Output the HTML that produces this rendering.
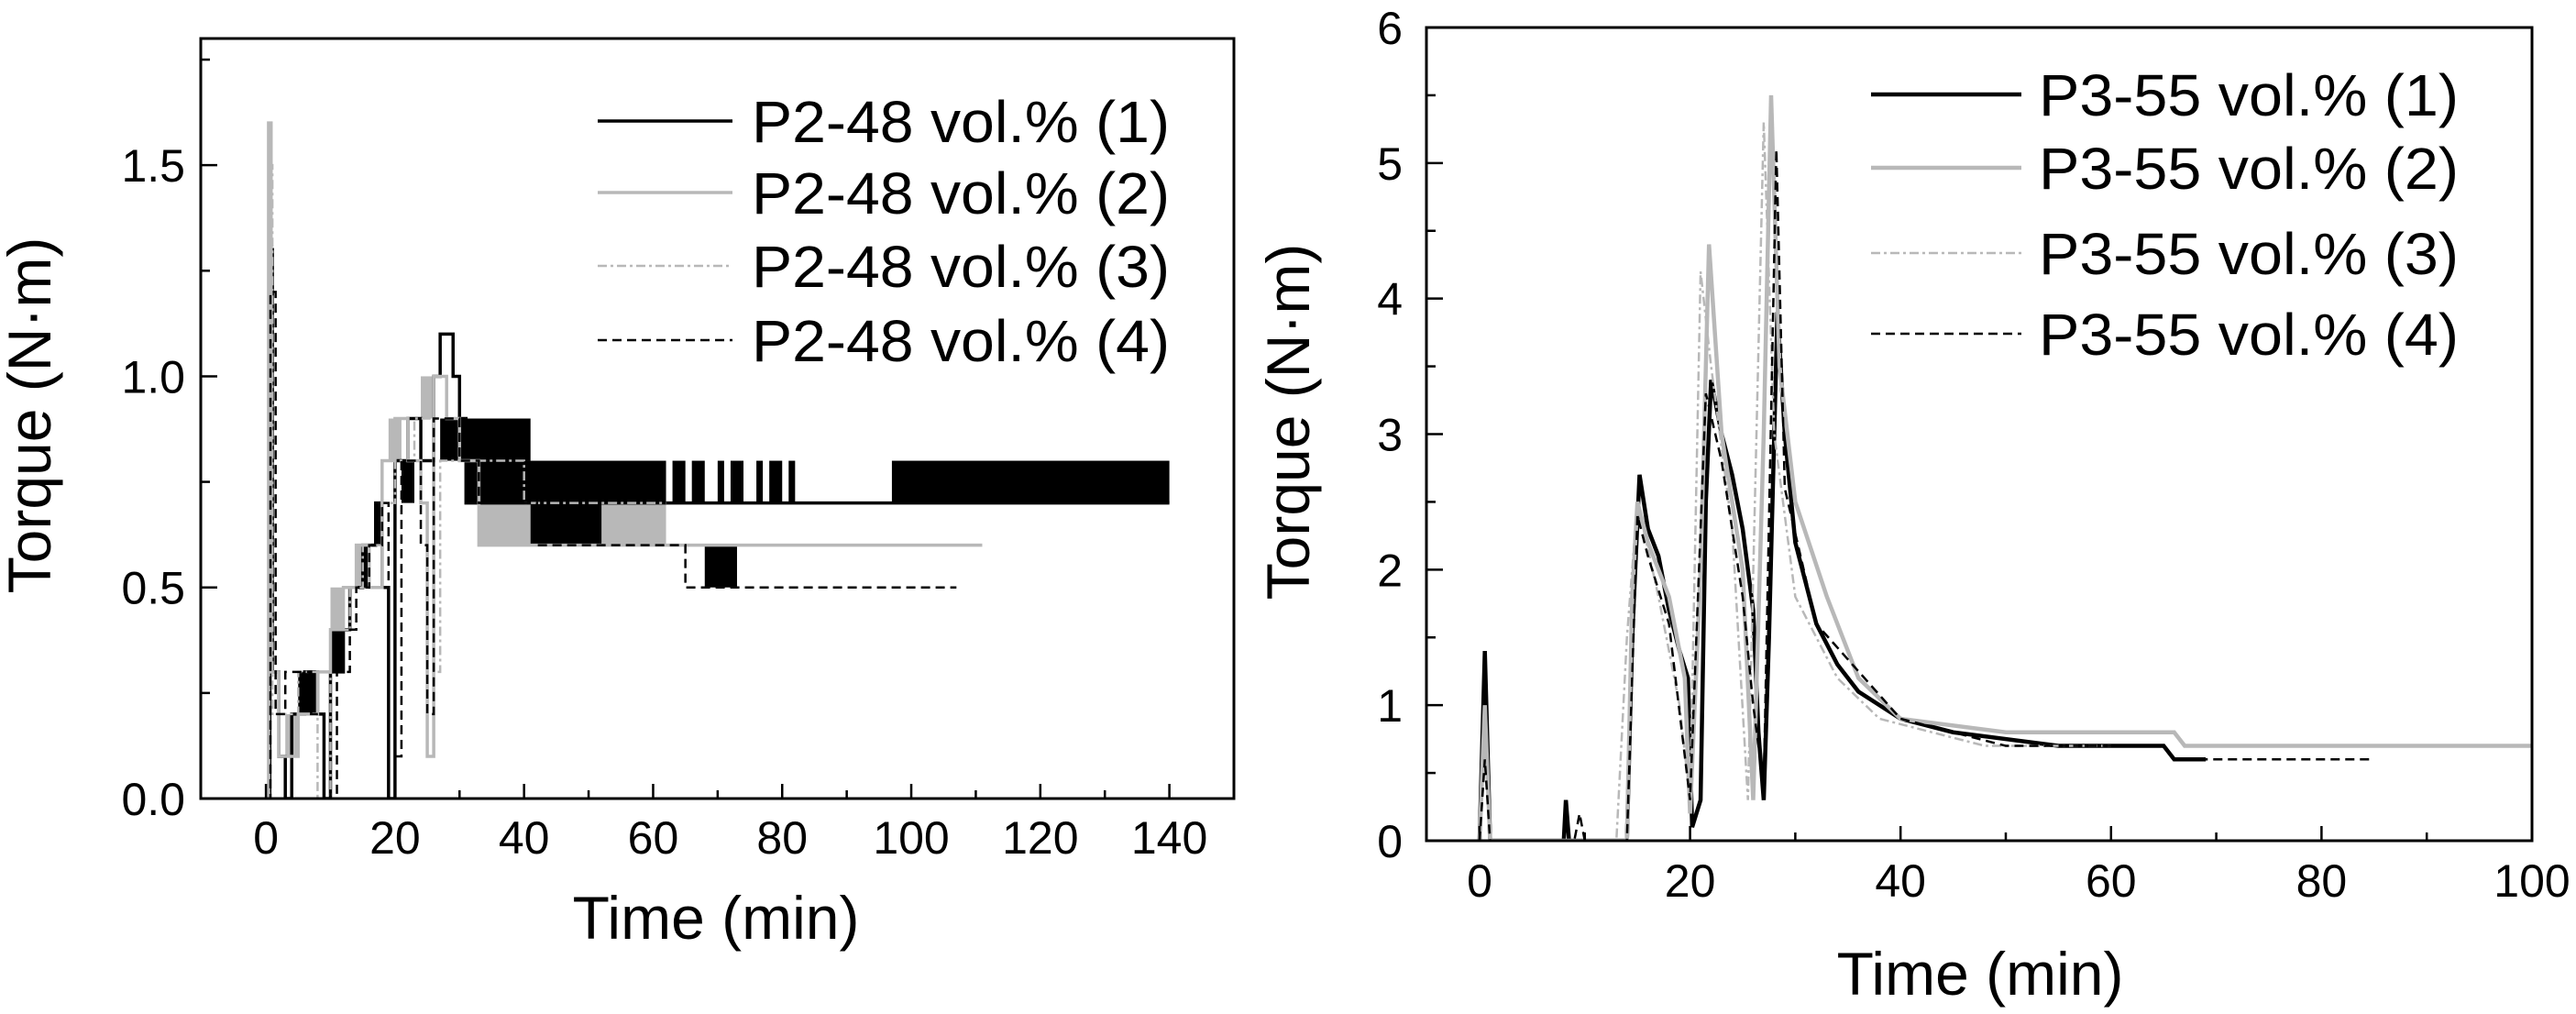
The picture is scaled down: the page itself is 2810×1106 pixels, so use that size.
<!DOCTYPE html>
<html><head><meta charset="utf-8">
<style>
html,body{margin:0;padding:0;background:#fff;}
svg{display:block;font-family:"Liberation Sans",sans-serif;}
</style></head>
<body>
<svg id="fig" width="2810" height="1106" viewBox="0 0 2810 1106" xmlns="http://www.w3.org/2000/svg">
<rect x="0" y="0" width="2810" height="1106" fill="#fff"/>
<g id="left"></g>
<g id="right"></g>
</svg>
<script>
// ---------- LEFT CHART DATA (P2-48 vol.%) ----------
const leftXTicks = [0,20,40,60,80,100,120,140];
const leftYTicks = [0.0,0.5,1.0,1.5];
const leftYTickLabels = ["0.0","0.5","1.0","1.5"];
const leftLegend = ["P2-48 vol.% (1)","P2-48 vol.% (2)","P2-48 vol.% (3)","P2-48 vol.% (4)"];
const leftS1 = [[0,0],[0.6,1.3],[1,0.3],[2,0.1],[3,0],[4,0.2],[6,0.3],[8,0.2],[9,0],[10,0.3],[12,0.4],[13,0.5],[15,0.6],[17,0.7],[18,0.5],[19,0],[20,0.8],[22,0.9],[24,0.8],[26,1.0],[27,1.1],[29,1.0],[30,0.9],[31,0.7],[140,0.7]];
const leftS2 = [[0,0],[0.4,1.6],[0.8,0.3],[2,0.1],[5,0.2],[8,0.3],[10,0.4],[12,0.5],[14,0.6],[16,0.5],[18,0.8],[20,0.9],[22,0.8],[24,0.7],[25,0.1],[26,1.0],[28,0.9],[30,0.8],[33,0.6],[111,0.6]];
const leftS3 = [[0,0],[0.5,1.5],[1,0.2],[5,0.3],[8,0],[10,0.4],[13,0.5],[15,0.6],[18,0.7],[20,0.8],[23,0.9],[26,0.3],[27,0.8],[30,0.8],[40,0.7],[62,0.7]];
const leftS4 = [[0,0],[0.7,1.2],[1.5,0.2],[3,0.3],[7,0.2],[9,0],[11,0.3],[13,0.4],[14,0.5],[16,0.6],[18,0.7],[19,0.1],[21,0.8],[24,0.6],[25,0.2],[26,0.9],[30,0.8],[33,0.7],[42,0.6],[63,0.6],[65,0.5],[107,0.5]];
// dense oscillation regions [t0,t1,low,high]
const leftBandsBlack = [[5,8,0.2,0.3],[10,12,0.3,0.4],[15,16,0.5,0.6],[17,18,0.6,0.7],[21,23,0.7,0.8],[27,31,0.8,0.9],[31,41,0.8,0.9],[31,62,0.7,0.8],[63,65,0.7,0.8],[66,68,0.7,0.8],[70,71,0.7,0.8],[72,74,0.7,0.8],[76,77,0.7,0.8],[78,80,0.7,0.8],[81,82,0.7,0.8],[97,140,0.7,0.8],[41,52,0.6,0.7],[68,73,0.5,0.6]];
const leftBandsGrey = [[3,5,0.1,0.2],[10,12,0.4,0.5],[14,16,0.5,0.6],[19,21,0.8,0.9],[24,26,0.9,1.0],[33,41,0.6,0.7],[52,62,0.6,0.7],[36,41,0.7,0.8],[29,31,0.8,0.9]];

// ---------- RIGHT CHART DATA (P3-55 vol.%) ----------
const rightXTicks = [0,20,40,60,80,100];
const rightYTicks = [0,1,2,3,4,5,6];
const rightLegend = ["P3-55 vol.% (1)","P3-55 vol.% (2)","P3-55 vol.% (3)","P3-55 vol.% (4)"];
const rightS1 = [[0,0],[0.5,1.4],[1,0],[8,0],[8.2,0.3],[8.5,0],[14,0],[14.5,1.5],[15.2,2.7],[16,2.3],[17,2.1],[18,1.7],[19,1.4],[19.8,1.2],[20.2,0.1],[21,0.3],[21.5,2.5],[22,3.4],[23,3.0],[24,2.7],[25,2.3],[26,1.7],[26.5,0.8],[27,0.3],[27.5,1.5],[28.3,3.9],[29,3.0],[30,2.2],[32,1.6],[34,1.3],[36,1.1],[40,0.9],[45,0.8],[55,0.7],[65,0.7],[66,0.6],[69,0.6]];
const rightS2 = [[0,0],[0.5,1.0],[1,0],[14,0],[14.5,1.8],[15,2.5],[16,2.2],[18,1.8],[19.5,1.2],[20,0.2],[21,2.0],[21.8,4.4],[23,3.0],[25,2.0],[26,0.3],[27,3.0],[27.7,5.5],[28.5,3.5],[30,2.5],[33,1.8],[36,1.2],[40,0.9],[50,0.8],[66,0.8],[67,0.7],[100,0.7]];
const rightS3 = [[0,0],[0.5,0.8],[1,0],[13,0],[14,1.5],[15,2.5],[17,1.8],[19,1.0],[20,0.3],[21,4.2],[22,3.5],[24,2.3],[25.5,0.3],[27,5.3],[28,3.0],[30,1.8],[34,1.2],[38,0.9],[48,0.7],[60,0.7]];
const rightS4 = [[0,0],[0.5,0.6],[1,0],[9,0],[9.5,0.2],[10,0],[14,0],[15,2.4],[16,2.1],[18,1.6],[20,0.3],[21.5,3.3],[23,2.8],[25,1.8],[26,1.0],[27,0.4],[28.2,5.1],[29,2.6],[32,1.6],[40,0.9],[50,0.7],[65,0.7],[66,0.6],[85,0.6]];

const NS = "http://www.w3.org/2000/svg";
function el(parent, tag, attrs){ const e=document.createElementNS(NS,tag); for(const k in attrs) e.setAttribute(k,attrs[k]); parent.appendChild(e); return e; }

function drawChart(g, cfg){
  const sx = v => cfg.x0 + (v - cfg.xmin)/(cfg.xmax - cfg.xmin)*(cfg.x1 - cfg.x0);
  const sy = v => cfg.y1 - (v - cfg.ymin)/(cfg.ymax - cfg.ymin)*(cfg.y1 - cfg.y0);
  const clip = el(g,"clipPath",{id:cfg.id+"-clip"});
  el(clip,"rect",{x:cfg.x0,y:cfg.y0,width:cfg.x1-cfg.x0,height:cfg.y1-cfg.y0});
  const plot = el(g,"g",{"clip-path":"url(#"+cfg.id+"-clip)"});
  
  
  (cfg.bands||[]).forEach(b=>{
    b.list.forEach(r=>{
      const rc = el(plot,"rect",{x:sx(r[0]),y:sy(r[3]),width:sx(r[1])-sx(r[0]),height:sy(r[2])-sy(r[3]),fill:b.color});
      
      
    });
  });
  cfg.series.forEach((s,i)=>{
    let d="";
    s.data.forEach((p,j)=>{
      if(j===0) d+="M"+sx(p[0])+","+sy(p[1]);
      else if(cfg.step) d+="H"+sx(p[0])+"V"+sy(p[1]);
      else d+="L"+sx(p[0])+","+sy(p[1]);
    });
    const path = el(plot,"path",{d:d,fill:"none",stroke:s.color,"stroke-width":s.w,"stroke-dasharray":s.dash||"none","stroke-linejoin":"miter"});
    
    
  });
  const frame = el(g,"rect",{x:cfg.x0,y:cfg.y0,width:cfg.x1-cfg.x0,height:cfg.y1-cfg.y0,fill:"none",stroke:"#000","stroke-width":3});
  
  
  const xstep = cfg.xTicks[1]-cfg.xTicks[0];
  for(let v=cfg.xTicks[0]; v<=cfg.xmax+1e-9; v+=xstep/2){
    const major = Math.abs((v-cfg.xTicks[0])/xstep - Math.round((v-cfg.xTicks[0])/xstep))<1e-6;
    el(g,"line",{x1:sx(v),x2:sx(v),y1:cfg.y1,y2:cfg.y1-(major?16:9),stroke:"#000","stroke-width":2.5});
  }
  cfg.xTicks.forEach(v=>{
    const t = el(g,"text",{x:sx(v),y:cfg.xLabelY,"font-size":cfg.tickFont,"text-anchor":"middle"});
    t.textContent = String(v);
    
    
  });
  const ystep = cfg.yTicks[1]-cfg.yTicks[0];
  for(let v=cfg.yTicks[0]; v<=cfg.ymax+1e-9; v+=ystep/2){
    const major = Math.abs((v-cfg.yTicks[0])/ystep - Math.round((v-cfg.yTicks[0])/ystep))<1e-6;
    el(g,"line",{x1:cfg.x0,x2:cfg.x0+(major?18:10),y1:sy(v),y2:sy(v),stroke:"#000","stroke-width":2.5});
  }
  cfg.yTicks.forEach((v,i)=>{
    const t = el(g,"text",{x:cfg.yLabelX,y:sy(v)+cfg.tickFont*0.36,"font-size":cfg.tickFont,"text-anchor":"end"});
    t.textContent = cfg.yLabels ? cfg.yLabels[i] : String(v);
    
    
  });
  const xt = el(g,"text",{x:cfg.xTitleX,y:cfg.xTitleY,"font-size":cfg.titleFont,"text-anchor":"middle"});
  xt.textContent = "Time (min)";
  
  
  const yt = el(g,"text",{x:0,y:0,"font-size":cfg.titleFont,"text-anchor":"middle",transform:"translate("+cfg.yTitleX+","+cfg.yTitleY+") rotate(-90)"});
  yt.textContent = "Torque (N\u00B7m)";
  
  
  cfg.legend.forEach((name,i)=>{
    const s = cfg.series[i];
    const y = cfg.legRows[i];
    const lg = el(g,"g",{});
    
    
    el(lg,"line",{x1:cfg.legX0,x2:cfg.legX1,y1:y,y2:y,stroke:s.color,"stroke-width":s.w,"stroke-dasharray":s.dash||"none"});
    const t = el(lg,"text",{x:cfg.legTextX,y:y+cfg.legFont*0.36,"font-size":cfg.legFont,textLength:cfg.legTextW,lengthAdjust:"spacingAndGlyphs"});
    t.textContent = name;
  });
}

const BLACK="#000", GREY="#b8b8b8";
drawChart(document.getElementById("left"),{
  id:"L", x0:219, x1:1346, y0:42, y1:871, xmin:-10.1, xmax:150, ymin:0, ymax:1.8, step:true,
  xTicks:leftXTicks, yTicks:leftYTicks, yLabels:leftYTickLabels,
  tickFont:50, titleFont:66, legFont:64,
  xLabelY:931, yLabelX:202, xTitleX:781, xTitleY:1024, yTitleX:55, yTitleY:453,
  legX0:652, legX1:799, legTextX:820, legTextW:456, legRows:[132,210,290,371],
  legend:leftLegend,
  bands:[{color:GREY,list:leftBandsGrey},{color:BLACK,list:leftBandsBlack}],
  series:[
    {data:leftS1,color:BLACK,w:3.5},
    {data:leftS2,color:GREY,w:3.5},
    {data:leftS3,color:GREY,w:2.5,dash:"10 4 3 4"},
    {data:leftS4,color:BLACK,w:2.5,dash:"10 6"}
  ]
});
drawChart(document.getElementById("right"),{
  id:"R", x0:1556, x1:2762, y0:30, y1:917, xmin:-5.05, xmax:100, ymin:0, ymax:6, step:false,
  xTicks:rightXTicks, yTicks:rightYTicks,
  tickFont:50, titleFont:66, legFont:64,
  xLabelY:978, yLabelX:1530, xTitleX:2160, xTitleY:1085, yTitleX:1428, yTitleY:460,
  legX0:2041, legX1:2205, legTextX:2224, legTextW:458, legRows:[103,183,276,364],
  legend:rightLegend,
  bands:[],
  series:[
    {data:rightS1,color:BLACK,w:4.5},
    {data:rightS2,color:GREY,w:4.5},
    {data:rightS3,color:GREY,w:2.5,dash:"10 4 3 4"},
    {data:rightS4,color:BLACK,w:2.5,dash:"10 6"}
  ]
});
</script>
</body></html>
